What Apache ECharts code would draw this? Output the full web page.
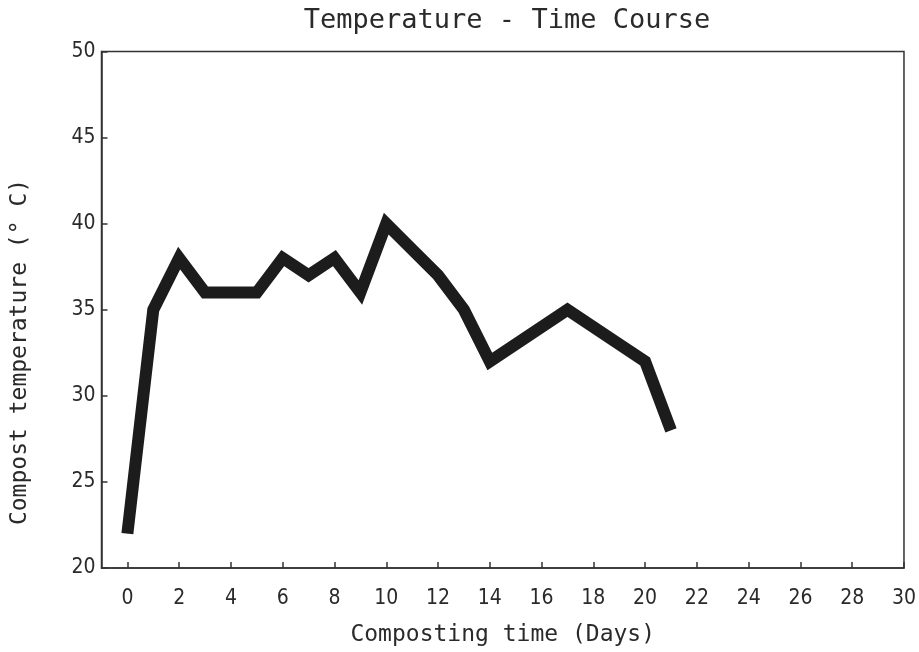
<!DOCTYPE html>
<html>
<head>
<meta charset="utf-8">
<script src="https://cdn.jsdelivr.net/npm/echarts@6/dist/echarts.min.js"></script>
<style>
  html, body { margin: 0; padding: 0; background: #fff; }
  #chart { width: 919px; height: 652px; }
</style>
</head>
<body>
<div id="chart"></div>
<script>
// Compost temperature over the composting period
const days  = [0, 1, 2, 3, 4, 5, 6, 7, 8, 9, 10, 11, 12, 13, 14, 15, 16, 17, 18, 19, 20, 21];
const temps = [22, 35, 38, 36, 36, 36, 38, 37, 38, 36, 40, 38.5, 37, 35, 32, 33, 34, 35, 34, 33, 32, 28];
const dayTicks = [0, 2, 4, 6, 8, 10, 12, 14, 16, 18, 20, 22, 24, 26, 28, 30];

const INK = '#1c1c1c';
const TEXT = '#2a2a2a';
const NARROW = "'Liberation Sans Narrow', 'DejaVu Sans Condensed', 'Liberation Sans', sans-serif";
const MONO = "'DejaVu Sans Mono', 'Liberation Mono', monospace";

const chart = echarts.init(document.getElementById('chart'), null, { renderer: 'canvas' });

chart.setOption({
  animation: false,
  backgroundColor: '#fff',
  title: {
    text: 'Temperature - Time Course',
    left: 502,
    top: 2,
    textAlign: 'center',
    textStyle: { fontFamily: MONO, fontWeight: 'normal', fontSize: 27, color: TEXT }
  },
  grid: {
    left: 101.5, right: 15, top: 51.5, bottom: 82,
    show: true, borderColor: '#333', borderWidth: 1.5, backgroundColor: 'transparent'
  },
  xAxis: {
    type: 'value',
    min: -1, max: 30,
    name: 'Composting time (Days)',
    nameLocation: 'middle',
    nameGap: 56,
    nameTextStyle: { fontFamily: MONO, fontSize: 23, color: TEXT },
    axisLine: { show: true, onZero: false, lineStyle: { color: '#333', width: 1.5 } },
    axisTick: { show: true, inside: true, length: 6, customValues: dayTicks, lineStyle: { color: '#333', width: 1.5 } },
    axisLabel: { customValues: dayTicks, margin: 20, fontFamily: NARROW, fontSize: 21, color: TEXT },
    splitLine: { show: false }
  },
  yAxis: {
    type: 'value',
    min: 20, max: 50, interval: 5,
    axisLine: { show: true, onZero: false, lineStyle: { color: '#333', width: 1.5 } },
    axisTick: { show: true, inside: true, length: 6, lineStyle: { color: '#333', width: 1.5 } },
    axisLabel: { margin: 6, fontFamily: NARROW, fontSize: 21, color: TEXT },
    splitLine: { show: false }
  },
  graphic: [{
    type: 'text',
    x: 20, y: 352,
    rotation: Math.PI / 2,
    style: {
      text: 'Compost temperature (° C)',
      fill: TEXT,
      font: '23px ' + MONO,
      align: 'center',
      verticalAlign: 'middle'
    }
  }],
  series: [{
    type: 'line',
    data: days.map((d, i) => [d, temps[i]]),
    showSymbol: false,
    symbol: 'none',
    lineStyle: { color: INK, width: 12, join: 'miter', cap: 'butt', miterLimit: 10 }
  }]
});
</script>
</body>
</html>
